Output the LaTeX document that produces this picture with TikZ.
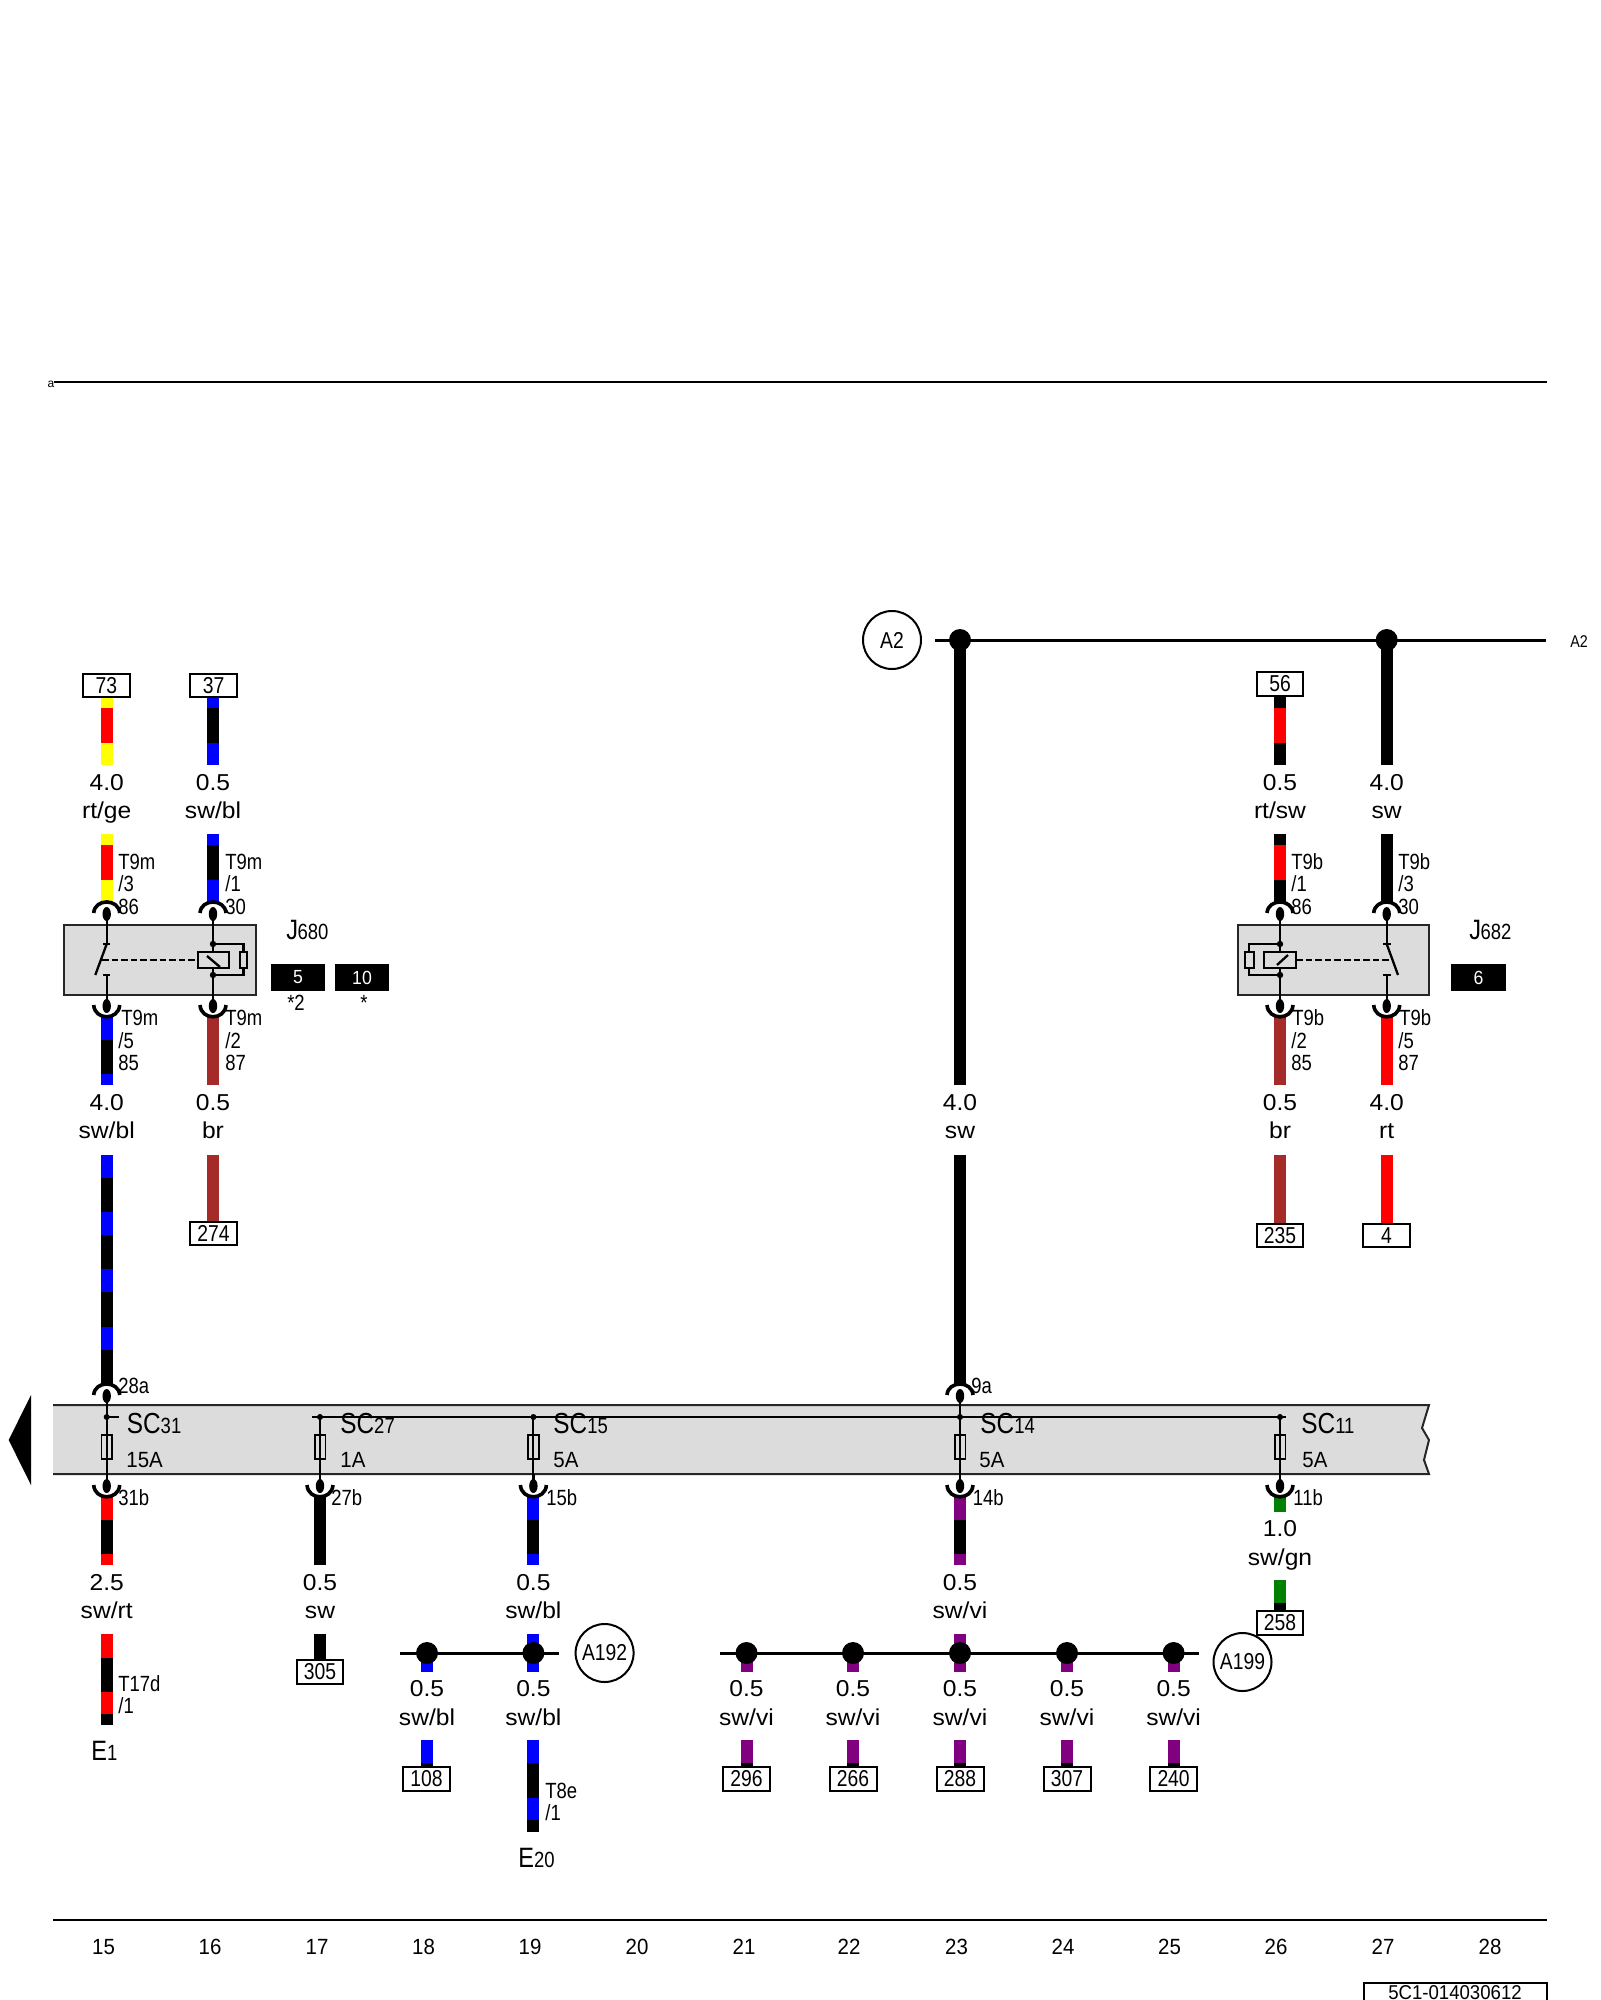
\documentclass[tikz,border=0pt]{standalone}
\usepackage{fontspec}
\setmainfont{Liberation Sans}
\newfontfamily\fwide[FakeStretch=1.07]{Liberation Sans}
\newfontfamily\fnarrow[FakeStretch=0.84]{Liberation Sans}
\newfontfamily\fcol[FakeStretch=0.93]{Liberation Sans}
\newcounter{tn}
\definecolor{wr}{HTML}{FF0000}
\definecolor{wy}{HTML}{FFFF00}
\definecolor{wb}{HTML}{0000FF}
\definecolor{wk}{HTML}{000000}
\definecolor{wv}{HTML}{800080}
\definecolor{wg}{HTML}{008000}
\definecolor{wn}{HTML}{A52A2A}
\definecolor{panel}{HTML}{DCDCDC}
\newcommand\sz[1]{\fontsize{#1}{#1}\selectfont}
\tikzset{
  thin wire/.style={line width=1.15pt,black},
  panel edge/.style={line width=1pt,black!85},
  bus/.style={line width=1.5pt,black},
  hoop/.style={line width=1.8pt,black},
  gauge/.style={font=\fwide\sz{11.5},anchor=base,inner sep=0pt},
  pinlbl/.style={font=\fnarrow\sz{11},anchor=base west,inner sep=0pt},
  amplbl/.style={font=\fcol\sz{11},anchor=base west,inner sep=0pt},
  collbl/.style={font=\fcol\sz{11},anchor=base,inner sep=0pt},
  reflbl/.style={draw,line width=1pt,fill=white,inner sep=0pt,font=\fnarrow\sz{11.5}},
  blackbox/.style={fill=black,text=white,inner sep=0pt,font=\fcol\sz{9.5}},
  joint/.style={circle,fill=black,inner sep=0pt,minimum size=11pt},
  smalldot/.style={circle,fill=black,inner sep=0pt,minimum size=3pt},
  bubble/.style={circle,draw,line width=1pt,inner sep=0pt,minimum size=29pt,font=\fnarrow\sz{11.5},fill=white},
  device/.style={font=\fnarrow\sz{14},anchor=base west,inner sep=0pt},
  relay dash/.style={thin wire,dash pattern=on 3.3pt off 1.5pt},
}
% wire: x, start y, list of colour/end y
\newcommand\wire[3]{\def\wyy{#2}\foreach \c/\e in {#3}{\fill[\c] (#1-6,\wyy) rectangle (#1+6,\e);\global\let\wyy\e}}
% text helper with automatic name
\newcommand\T[4]{\stepcounter{tn}\node[#1] (t\arabic{tn}) at (#2,#3) {#4};}
% reference box x0 y0 x1 y1 text
\newcommand\bx[6]{\node[reflbl,minimum width=#4*0.5pt-#2*0.5pt,minimum height=#5*0.5pt-#3*0.5pt] (#1) at ({(#2+#4)/2},{(#3+#5)/2}) {#6};}
% connector hoop over a pin entering from the top: x, top y, y of panel edge
\newcommand\topc[3]{%
  \draw[hoop] (#1-13,#2+11) .. controls (#1-12,#2-3.7) and (#1+12,#2-3.7) .. (#1+13,#2+11);
  \fill[black] (#1,#2+12) ellipse [x radius=4.2,y radius=7];
  \draw[thin wire] (#1,#2+12) -- (#1,#3);}
% hoop below a panel: x, bottom y, y of panel edge
\newcommand\botc[3]{%
  \draw[hoop] (#1-13,#2-12) .. controls (#1-12,#2+3.7) and (#1+12,#2+3.7) .. (#1+13,#2-12);
  \fill[black] (#1,#2-11) ellipse [x radius=4.2,y radius=7];
  \draw[thin wire] (#1,#2-11) -- (#1,#3);}
\newcommand\fuse[1]{\draw[line width=.8pt] (#1-5.3,1435) rectangle (#1+5.3,1459);}
\begin{document}
\begin{tikzpicture}[x=0.5pt,y=-0.5pt]
\path[use as bounding box] (0,0) rectangle (1600,2000);
\clip (0,0) rectangle (1600,2000);
\fill[white] (0,0) rectangle (1600,2000);

% top rule
\coordinate (ra) at (54,382);
\coordinate (rb) at (1547,382);
\draw[panel edge,black] (ra) -- (rb);
\node[font=\sz{6},inner sep=0pt] (alab) at (51,384) {a};

% A2 bus
\node[bubble] (cA2) at (892,640) {A2};
\coordinate (a2l) at (935,640);
\coordinate (a2r) at (1546,640);
\draw[bus] (a2l) -- (a2r);
\wire{960}{640}{wk/1085}
\wire{1386.7}{640}{wk/765}
\node[joint] (j23) at (960,640) {};
\node[joint] (j27) at (1386.7,640) {};
\node[font=\fnarrow\sz{8.5},anchor=west,inner sep=0pt] (A2r) at (1570,642) {A2};

% J680 group
\wire{106.7}{697}{wy/708,wr/742.5,wy/765}
\wire{213}{697}{wb/708,wk/742.5,wb/765}
\bx{b73}{82.7}{674}{130}{697}{73}
\bx{b37}{190}{674}{237}{697}{37}
\T{gauge}{106.7}{790}{4.0}\T{gauge}{213}{790}{0.5}
\T{gauge}{106.7}{818}{rt/ge}\T{gauge}{213}{818}{sw/bl}
\wire{106.7}{834}{wy/845,wr/880,wy/902}
\wire{213}{834}{wb/845,wk/880,wb/902}
\T{pinlbl}{118}{869}{T9m}\T{pinlbl}{118}{891}{/3}\T{pinlbl}{118}{914}{86}
\T{pinlbl}{225}{869}{T9m}\T{pinlbl}{225}{891}{/1}\T{pinlbl}{225}{914}{30}

\filldraw[panel edge,fill=panel] (64,925) rectangle (256,995);
\topc{106.7}{902}{925}\topc{213}{902}{925}
% switch left
\draw[thin wire] (106.7,925) -- (106.7,944) (103,944) -- (110,944);
\draw[thin wire] (106.7,944) -- (95.3,975);
\draw[thin wire] (103,975) -- (110,975) (106.7,975) -- (106.7,995);
\draw[relay dash] (102,960) -- (198,960);
% coil left
\draw[thin wire] (213,925) -- (213,995);
\draw[thin wire] (213,944) -- (243.5,944) -- (243.5,975) -- (213,975);
\filldraw[thin wire,fill=panel] (198,952) rectangle (229,968);
\draw[thin wire] (207,956) -- (220,967);
\filldraw[thin wire,fill=panel] (240,952) rectangle (247,968);
\node[smalldot,minimum size=3.2pt] (d1) at (213,944) {};
\node[smalldot,minimum size=3.2pt] (d2) at (213,975) {};

\node[device] (J680) at (286,939) {J\kern-.3pt\sz{11}680};
\node[blackbox,minimum width=27pt,minimum height=13.5pt] (bb5) at (298,977.5) {5};
\node[blackbox,minimum width=27pt,minimum height=13.5pt] (bb10) at (362,977.5) {10};
\node[pinlbl,anchor=base] (st2) at (296,1010) {*2};
\node[pinlbl,anchor=base] (st1) at (364,1010) {*};

\wire{106.7}{1017}{wb/1040,wk/1074,wb/1085}
\wire{213}{1017}{wn/1085}
\botc{106.7}{1017}{995}\botc{213}{1017}{995}
\T{pinlbl}{121}{1025}{T9m}\T{pinlbl}{118}{1048}{/5}\T{pinlbl}{118}{1070}{85}
\T{pinlbl}{225}{1025}{T9m}\T{pinlbl}{225}{1048}{/2}\T{pinlbl}{225}{1070}{87}
\T{gauge}{106.7}{1110}{4.0}\T{gauge}{213}{1110}{0.5}
\T{gauge}{106.7}{1138.5}{sw/bl}\T{gauge}{213}{1138.5}{br}
\wire{106.7}{1155}{wb/1178,wk/1212,wb/1235,wk/1269,wb/1292,wk/1327,wb/1350,wk/1384}
\wire{213}{1155}{wn/1223}
\bx{b274}{190}{1222}{237}{1245}{274}

% centre wire
\T{gauge}{960}{1110}{4.0}\T{gauge}{960}{1138.5}{sw}
\wire{960}{1155}{wk/1384}

% J682 group
\wire{1280}{696}{wk/708,wr/742.5,wk/765}
\bx{b56}{1257}{672}{1303}{696}{56}
\T{gauge}{1280}{790}{0.5}\T{gauge}{1386.7}{790}{4.0}
\T{gauge}{1280}{818}{rt/sw}\T{gauge}{1386.7}{818}{sw}
\wire{1280}{834}{wk/845,wr/880,wk/902}
\wire{1386.7}{834}{wk/902}
\T{pinlbl}{1291}{869}{T9b}\T{pinlbl}{1291}{891}{/1}\T{pinlbl}{1291}{914}{86}
\T{pinlbl}{1398}{869}{T9b}\T{pinlbl}{1398}{891}{/3}\T{pinlbl}{1398}{914}{30}

\filldraw[panel edge,fill=panel] (1238,925) rectangle (1429,995);
\topc{1280}{902}{925}\topc{1386.7}{902}{925}
\draw[thin wire] (1280,925) -- (1280,995);
\draw[thin wire] (1280,944) -- (1249,944) -- (1249,975) -- (1280,975);
\filldraw[thin wire,fill=panel] (1264,952) rectangle (1296,968);
\draw[thin wire] (1277,965) -- (1288,955);
\filldraw[thin wire,fill=panel] (1245,952) rectangle (1254,968);
\node[smalldot,minimum size=3.2pt] (d3) at (1280,944) {};
\node[smalldot,minimum size=3.2pt] (d4) at (1280,975) {};
\draw[relay dash] (1296,960) -- (1391,960);
\draw[thin wire] (1386.7,925) -- (1386.7,944) (1383,944) -- (1391,944);
\draw[thin wire] (1386.7,944) -- (1398,975);
\draw[thin wire] (1383,975) -- (1391,975) (1386.7,975) -- (1386.7,995);

\node[device] (J682) at (1469,939) {J\kern-.3pt\sz{11}682};
\node[blackbox,minimum width=27.5pt,minimum height=13.5pt] (bb6) at (1478.5,977.5) {6};

\wire{1280}{1017}{wn/1085}
\wire{1386.7}{1017}{wr/1085}
\botc{1280}{1017}{995}\botc{1386.7}{1017}{995}
\T{pinlbl}{1292}{1025}{T9b}\T{pinlbl}{1291}{1048}{/2}\T{pinlbl}{1291}{1070}{85}
\T{pinlbl}{1399}{1025}{T9b}\T{pinlbl}{1398}{1048}{/5}\T{pinlbl}{1398}{1070}{87}
\T{gauge}{1280}{1110}{0.5}\T{gauge}{1386.7}{1110}{4.0}
\T{gauge}{1280}{1138.5}{br}\T{gauge}{1386.7}{1138.5}{rt}
\wire{1280}{1155}{wn/1224}
\wire{1386.7}{1155}{wr/1224}
\bx{b235}{1257}{1224}{1303}{1247}{235}
\bx{b4}{1363}{1224}{1410}{1247}{4}

% fuse panel
\fill[panel] (53,1405) -- (1429,1405) -- (1422,1428) -- (1429,1440) -- (1424,1460) -- (1429,1474) -- (53,1474) -- cycle;
\draw[panel edge] (53,1405) -- (1429,1405) -- (1422,1428) -- (1429,1440) -- (1424,1460) -- (1429,1474) -- (53,1474);
\fill[black] (31,1395) -- (31,1485) -- (8.7,1440) -- cycle;
\draw[thin wire,line width=1pt] (312,1417) -- (1286,1417);
\draw[thin wire,line width=1pt] (106.7,1417) -- (118.6,1417);
\foreach \x in {106.7,320,533.4,960,1280}{\fuse{\x}\node[smalldot] at (\x,1417) {};}
\draw[thin wire,line width=1pt] (320,1417) -- (320,1474);
\draw[thin wire,line width=1pt] (533.4,1417) -- (533.4,1474);
\draw[thin wire,line width=1pt] (1280,1417) -- (1280,1474);
\draw[thin wire,line width=1pt] (106.7,1405) -- (106.7,1474);
\draw[thin wire,line width=1pt] (960,1405) -- (960,1474);

\wire{106.7}{1497}{wr/1520,wk/1554,wr/1565}
\wire{320}{1497}{wk/1565}
\wire{533.4}{1497}{wb/1520,wk/1554,wb/1565}
\wire{960}{1497}{wv/1520,wk/1554,wv/1565}
\wire{1280}{1497}{wg/1512}
\topc{106.7}{1384}{1405}\topc{960}{1384}{1405}
\botc{106.7}{1497}{1474}\botc{320}{1497}{1474}\botc{533.4}{1497}{1474}\botc{960}{1497}{1474}\botc{1280}{1497}{1474}

\tikzset{sc/.style={font=\fnarrow\sz{14.5},anchor=base west,inner sep=0pt}}
\T{sc}{126.5}{1433}{SC\sz{11}31}\T{sc}{340}{1433}{SC\sz{11}27}\T{sc}{553}{1433}{SC\sz{11}15}
\T{sc}{980}{1433}{SC\sz{11}14}\T{sc}{1301}{1433}{SC\sz{11}11}
\T{amplbl}{126}{1467}{15A}\T{amplbl}{340}{1467}{1A}\T{amplbl}{553}{1467}{5A}
\T{amplbl}{979}{1467}{5A}\T{amplbl}{1302}{1467}{5A}
\T{pinlbl}{118}{1393}{28a}\T{pinlbl}{971}{1393}{9a}
\T{pinlbl}{118}{1505}{31b}\T{pinlbl}{331}{1505}{27b}\T{pinlbl}{546}{1505}{15b}
\T{pinlbl}{972.5}{1505}{14b}\T{pinlbl}{1293}{1505}{11b}

\foreach \x/\t/\u in {106.7/2.5/sw\slash rt,320/0.5/sw,533.4/0.5/sw\slash bl,960/0.5/sw\slash vi}{
  \T{gauge}{\x}{1590}{\t}\T{gauge}{\x}{1618}{\u}}
\T{gauge}{1280}{1536}{1.0}\T{gauge}{1280}{1565}{sw/gn}
\wire{1280}{1580}{wg/1603,wk/1612}
\bx{b258}{1257}{1611}{1303}{1635}{258}

% lower wires
\wire{106.7}{1634}{wr/1658,wk/1692,wr/1714,wk/1725}
\T{pinlbl}{118}{1691}{T17d}\T{pinlbl}{118}{1713}{/1}
\node[device] (E1) at (91,1760) {E\sz{11}1};
\wire{320}{1634}{wk/1660}
\bx{b305}{297}{1660}{343}{1684}{305}

% A192 bus
\wire{427}{1653}{wb/1672}
\wire{533.4}{1634}{wb/1672}
\coordinate (b1l) at (400,1653);
\coordinate (b1r) at (559,1653);
\draw[bus] (b1l) -- (b1r);
\node[joint] (j18) at (427,1653) {};
\node[joint] (j19) at (533.4,1653) {};
\node[bubble] (cA192) at (604.6,1653) {A192};
\foreach \x in {427,533.4}{\T{gauge}{\x}{1696}{0.5}\T{gauge}{\x}{1725}{sw/bl}}
\wire{427}{1740}{wb/1763,wk/1767}
\bx{b108}{403}{1767}{450}{1791}{108}
\wire{533.4}{1740}{wb/1763,wk/1798,wb/1820,wk/1832}
\T{pinlbl}{545}{1798}{T8e}\T{pinlbl}{545}{1820}{/1}
\node[device] (E20) at (518,1867) {E\sz{11}20};

% A199 bus
\wire{960}{1634}{wv/1672}
\foreach \x in {746.5,853,1067,1173.6}{\wire{\x}{1653}{wv/1672}}
\coordinate (b2l) at (720,1653);
\coordinate (b2r) at (1199,1653);
\draw[bus] (b2l) -- (b2r);
\node[joint] (j21) at (746.5,1653) {};
\node[joint] (j22) at (853,1653) {};
\node[joint] (j23b) at (960,1653) {};
\node[joint] (j24) at (1067,1653) {};
\node[joint] (j25) at (1173.6,1653) {};
\node[bubble] (cA199) at (1242.5,1662) {A199};
\foreach \x/\n in {746.5/296,853/266,960/288,1067/307,1173.6/240}{
  \T{gauge}{\x}{1696}{0.5}\T{gauge}{\x}{1725}{sw/vi}
  \wire{\x}{1740}{wv/1763,wk/1767}
  \node[reflbl,minimum width=23.5pt,minimum height=12pt] at (\x,1779) {\n};
}

% bottom rule and column numbers
\coordinate (rc) at (53,1920);
\coordinate (rd) at (1547,1920);
\draw[panel edge,black] (rc) -- (rd);
\foreach \n/\x in {15/103.6,16/210,17/317,18/423.6,19/530,20/637,21/744,22/849,23/956.6,24/1063,25/1169.6,26/1276,27/1383,28/1490}{
  \T{collbl}{\x}{1954}{\n}}
\draw[panel edge,black] (1364,2010) -- (1364,1983) -- (1547,1983) -- (1547,2010);
\node[font=\fcol\sz{10},anchor=base,inner sep=0pt] (code) at (1455,1999) {5C1-014030612};
\end{tikzpicture}
\end{document}
